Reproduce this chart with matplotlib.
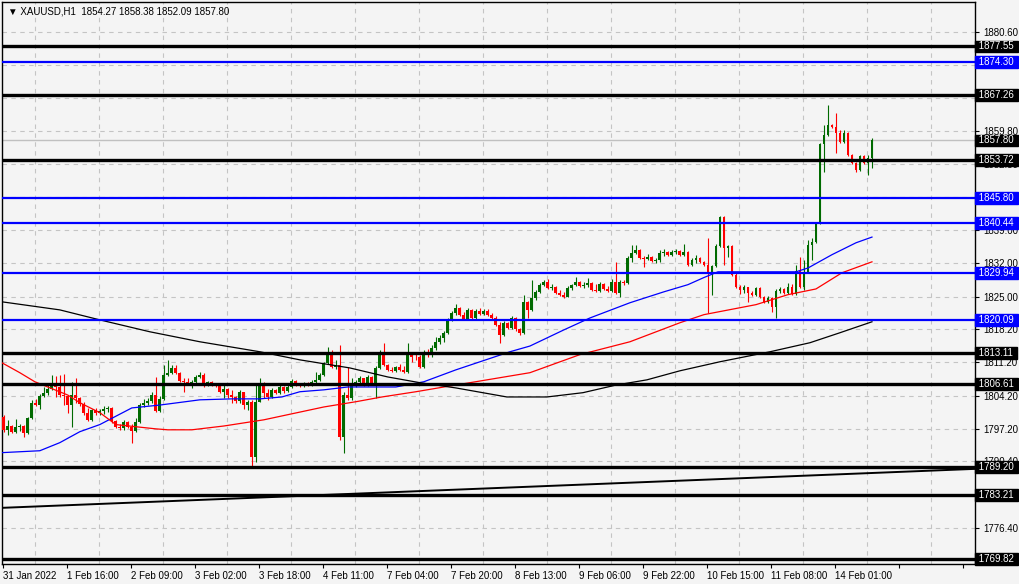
import matplotlib
matplotlib.use('Agg')
import matplotlib.pyplot as plt
import matplotlib.transforms as mtransforms

plt.rcParams['font.family'] = ['Liberation Sans', 'DejaVu Sans']

# XAUUSD H1 candles, 31 Jan 2022 .. 14 Feb 2022
first_open = 1799.7
closes = [
    1797.0, 1797.8, 1796.6, 1797.6, 1797.8, 1796.4, 1799.5, 1802.7, 1802.2, 1804.1,
    1804.8, 1805.6, 1806.9, 1806.0, 1804.3, 1804.1, 1802.2, 1804.3, 1803.7, 1802.5,
    1800.6, 1799.1, 1801.2, 1800.6, 1801.0, 1801.4, 1801.6, 1798.9, 1797.6, 1797.4,
    1798.7, 1797.6, 1796.8, 1798.7, 1802.2, 1802.7, 1803.1, 1804.3, 1801.0, 1803.5,
    1808.6, 1809.0, 1810.0, 1809.0, 1807.3, 1807.1, 1806.9, 1807.1, 1808.1, 1808.6,
    1806.2, 1807.1, 1806.4, 1806.2, 1804.9, 1805.6, 1804.3, 1803.9, 1803.1, 1804.9,
    1802.2, 1802.9, 1791.3, 1802.9, 1806.9, 1804.8, 1803.9, 1805.4, 1804.8, 1806.0,
    1805.2, 1806.0, 1807.3, 1806.7, 1806.2, 1806.9, 1806.4, 1807.1, 1807.5, 1808.6,
    1811.1, 1813.4, 1810.2, 1810.7, 1795.5, 1804.3, 1803.7, 1806.9, 1807.1, 1807.9,
    1806.4, 1808.1, 1806.9, 1810.0, 1813.4, 1810.7, 1809.6, 1809.4, 1810.2, 1809.6,
    1809.2, 1812.8, 1812.4, 1812.2, 1810.2, 1813.4, 1812.8, 1814.2, 1815.5, 1816.3,
    1817.4, 1820.1, 1821.6, 1822.6, 1821.2, 1820.3, 1822.2, 1820.5, 1822.0, 1821.4,
    1822.0, 1821.2, 1820.5, 1819.1, 1816.9, 1819.5, 1818.4, 1820.5, 1818.2, 1817.4,
    1823.9, 1822.2, 1824.7, 1826.0, 1827.5, 1828.1, 1826.8, 1827.0, 1825.8, 1825.4,
    1824.9, 1826.8, 1827.5, 1828.1, 1827.2, 1827.5, 1827.9, 1826.4, 1826.2, 1827.7,
    1826.6, 1826.2, 1828.1, 1825.8, 1828.1, 1827.9, 1833.1, 1834.2, 1834.8, 1833.1,
    1832.9, 1833.4, 1832.5, 1832.7, 1834.2, 1834.4, 1833.7, 1834.4, 1834.6, 1833.7,
    1834.4, 1831.7, 1832.7, 1833.1, 1832.3, 1831.7, 1830.0, 1831.4, 1835.7, 1841.7,
    1835.2, 1835.7, 1829.6, 1827.0, 1826.4, 1827.0, 1825.8, 1825.4, 1826.8, 1824.9,
    1823.9, 1824.7, 1822.8, 1826.2, 1826.6, 1825.8, 1827.0, 1825.6, 1830.4, 1827.0,
    1830.2, 1835.9, 1836.5, 1840.5, 1857.1, 1859.0, 1861.1, 1860.6, 1859.4, 1857.5,
    1859.4, 1854.8, 1853.1, 1851.6, 1854.6, 1853.1, 1854.2, 1857.8,
]
highs = [
    1800.1, 1799.1, 1798.1, 1799.3, 1798.3, 1798.1, 1799.7, 1803.3, 1803.5, 1804.6,
    1806.0, 1806.7, 1808.6, 1808.3, 1808.6, 1808.8, 1804.3, 1807.1, 1807.9, 1803.9,
    1802.9, 1801.6, 1801.4, 1801.6, 1801.4, 1802.0, 1802.0, 1801.8, 1799.1, 1798.3,
    1799.1, 1798.9, 1798.3, 1799.5, 1802.7, 1803.5, 1803.7, 1805.0, 1808.1, 1804.1,
    1810.7, 1811.7, 1810.7, 1810.7, 1809.2, 1807.9, 1807.9, 1807.5, 1808.6, 1809.2,
    1809.0, 1807.3, 1807.3, 1806.9, 1806.7, 1806.4, 1805.8, 1805.4, 1804.1, 1805.4,
    1805.0, 1803.3, 1803.3, 1806.9, 1807.9, 1807.1, 1805.6, 1805.8, 1805.6, 1806.4,
    1806.2, 1806.4, 1807.7, 1807.5, 1806.9, 1807.1, 1807.1, 1807.5, 1809.2, 1809.0,
    1811.3, 1814.4, 1813.8, 1811.7, 1814.9, 1805.0, 1810.2, 1807.9, 1807.5, 1808.3,
    1807.9, 1808.6, 1808.3, 1810.4, 1813.8, 1815.3, 1810.9, 1810.2, 1810.4, 1810.9,
    1810.4, 1815.3, 1813.2, 1813.4, 1812.8, 1813.8, 1814.0, 1814.9, 1816.5, 1817.0,
    1817.8, 1820.6, 1822.0, 1823.5, 1822.8, 1821.8, 1822.6, 1822.4, 1822.4, 1822.6,
    1822.4, 1822.4, 1821.6, 1820.9, 1819.7, 1819.9, 1819.7, 1820.9, 1820.7, 1818.4,
    1825.4, 1824.1, 1828.5, 1826.4, 1827.9, 1828.5, 1828.7, 1827.7, 1827.2, 1826.4,
    1826.0, 1827.2, 1827.7, 1829.1, 1828.3, 1828.1, 1828.9, 1828.1, 1827.7, 1828.1,
    1827.9, 1827.2, 1828.7, 1832.3, 1828.5, 1828.5, 1833.6, 1835.9, 1835.9, 1835.0,
    1833.6, 1834.0, 1833.6, 1833.1, 1834.8, 1835.0, 1834.6, 1834.8, 1835.0, 1834.8,
    1836.1, 1834.6, 1833.1, 1833.8, 1833.3, 1832.5, 1837.3, 1831.7, 1836.1, 1841.9,
    1841.9, 1835.9, 1835.9, 1830.0, 1827.5, 1827.5, 1827.0, 1826.2, 1827.0, 1827.0,
    1825.2, 1825.2, 1824.9, 1826.6, 1827.0, 1826.8, 1827.9, 1827.7, 1831.7, 1833.3,
    1832.7, 1836.9, 1837.3, 1840.7, 1857.3, 1861.1, 1865.3, 1861.3, 1863.6, 1860.0,
    1860.0, 1859.6, 1855.0, 1853.3, 1854.8, 1854.8, 1854.8, 1858.38,
]
lows = [
    1796.6, 1795.9, 1796.4, 1796.4, 1796.8, 1795.5, 1796.2, 1799.3, 1802.0, 1801.4,
    1803.9, 1804.3, 1805.4, 1803.9, 1803.9, 1802.3, 1800.6, 1797.6, 1802.7, 1802.0,
    1800.1, 1798.9, 1798.9, 1800.1, 1800.1, 1800.4, 1800.8, 1798.5, 1797.4, 1797.0,
    1797.0, 1797.4, 1794.3, 1796.6, 1798.5, 1801.8, 1802.2, 1802.7, 1800.8, 1800.8,
    1803.3, 1808.3, 1808.8, 1808.8, 1807.1, 1805.0, 1806.7, 1805.8, 1806.9, 1807.9,
    1806.0, 1806.2, 1806.2, 1806.0, 1804.7, 1803.7, 1803.7, 1802.7, 1802.7, 1802.7,
    1801.4, 1801.2, 1789.0, 1790.3, 1802.9, 1803.7, 1803.3, 1803.7, 1804.6, 1804.6,
    1804.8, 1805.0, 1805.8, 1806.2, 1806.0, 1806.0, 1806.2, 1806.2, 1806.9, 1807.3,
    1808.3, 1810.9, 1810.0, 1809.8, 1794.9, 1792.2, 1803.3, 1803.3, 1806.0, 1806.4,
    1806.2, 1806.2, 1806.7, 1803.7, 1809.8, 1810.4, 1809.4, 1809.2, 1809.2, 1809.4,
    1809.0, 1809.0, 1811.3, 1811.7, 1810.0, 1810.0, 1812.4, 1812.4, 1813.8, 1815.1,
    1815.5, 1817.2, 1819.9, 1821.2, 1820.9, 1820.1, 1820.1, 1820.3, 1820.3, 1821.2,
    1821.2, 1820.9, 1820.3, 1818.8, 1815.3, 1816.7, 1818.2, 1818.2, 1817.8, 1817.0,
    1817.2, 1820.5, 1822.0, 1824.3, 1825.8, 1827.2, 1826.6, 1826.4, 1825.6, 1825.2,
    1824.7, 1824.9, 1826.4, 1827.2, 1827.0, 1826.8, 1827.0, 1826.2, 1826.0, 1826.0,
    1826.4, 1826.0, 1826.0, 1825.6, 1824.9, 1827.5, 1827.7, 1832.3, 1834.0, 1832.9,
    1831.2, 1832.7, 1832.3, 1832.1, 1832.3, 1833.6, 1833.6, 1833.6, 1834.0, 1833.6,
    1833.6, 1831.4, 1831.4, 1832.1, 1832.1, 1831.4, 1821.6, 1825.4, 1831.2, 1835.5,
    1831.7, 1833.3, 1829.4, 1826.8, 1825.6, 1825.8, 1823.9, 1825.2, 1825.2, 1824.7,
    1823.7, 1823.7, 1821.8, 1820.5, 1825.8, 1825.6, 1825.6, 1825.4, 1825.4, 1826.8,
    1826.4, 1830.0, 1832.7, 1836.3, 1840.3, 1851.2, 1858.8, 1860.4, 1855.2, 1857.3,
    1857.3, 1854.6, 1852.9, 1851.2, 1851.4, 1852.9, 1850.6, 1852.09,
]
opens = [first_open] + closes[:-1]

# moving averages (bar index, value)
ma_blue_bars = [-0.5, 9, 14, 19, 24, 32, 39, 49, 57, 64, 69.5, 74, 80, 86, 98, 105, 113,
                126.5, 131.5, 140, 146.5, 156.5, 165, 171, 175, 178.5, 198, 201, 207, 213, 217]
ma_blue_vals = [1792.2, 1792.6, 1794.3, 1796.6, 1798.1, 1801.6, 1802.2, 1803.3, 1803.5, 1803.5,
                1803.9, 1805.0, 1805.4, 1806.0, 1806.0, 1807.1, 1809.6, 1813.4, 1814.6, 1818.0,
                1820.5, 1823.7, 1826.0, 1827.5, 1829.0, 1830.2, 1830.2, 1831.0, 1833.8, 1836.3, 1837.5]
ma_red_bars = [-0.5, 4, 7.75, 11, 16, 19, 24, 28, 33.5, 38, 41, 47, 49, 55, 65, 80, 88, 94.5,
               103, 110, 116.5, 131.5, 144, 156.5, 169, 175, 188, 196, 203, 209.5, 217]
ma_red_vals = [1811.1, 1809.0, 1807.1, 1806.0, 1804.3, 1802.7, 1800.6, 1798.1, 1797.6, 1797.2,
               1797.0, 1797.0, 1797.2, 1797.8, 1799.1, 1801.8, 1802.9, 1803.9, 1805.0, 1806.0,
               1806.9, 1809.0, 1812.8, 1815.5, 1819.5, 1821.2, 1823.3, 1825.4, 1826.6, 1830.0, 1832.3]
ma_black_bars = [-0.5, 14, 24, 36.5, 49, 64, 74, 86.5, 96, 104, 113, 125.75, 135.75, 144.75,
                 153, 160.75, 169, 179, 191.5, 201.5, 209, 217]
ma_black_vals = [1823.9, 1822.2, 1820.1, 1817.6, 1815.5, 1813.4, 1811.7, 1810.0, 1808.1, 1806.9,
                 1805.8, 1803.9, 1803.9, 1804.8, 1806.4, 1807.5, 1809.4, 1811.3, 1813.4, 1815.3,
                 1817.4, 1819.7]

trend_bars = [-0.5, 243]
trend_vals = [1780.6, 1788.8]

black_levels = [1877.55, 1867.26, 1853.72, 1813.11, 1806.61, 1789.20, 1783.21, 1769.82]
blue_levels = [1874.30, 1845.80, 1840.44, 1829.94, 1820.09]
last_price = 1857.80

price_ticks = [1880.60, 1873.70, 1866.80, 1859.80, 1852.80, 1845.90, 1839.00, 1832.00,
               1825.00, 1818.20, 1811.20, 1804.20, 1797.20, 1790.40, 1783.40, 1776.40]
time_labels = ['31 Jan 2022', '1 Feb 16:00', '2 Feb 09:00', '3 Feb 02:00', '3 Feb 18:00',
               '4 Feb 11:00', '7 Feb 04:00', '7 Feb 20:00', '8 Feb 13:00', '9 Feb 06:00',
               '9 Feb 22:00', '10 Feb 15:00', '11 Feb 08:00', '14 Feb 01:00', '', '']

bg = '#f4f4f4'
bull = '#006a00'
bear = '#ff0000'

fig = plt.figure(figsize=(10.2, 5.84), dpi=100, facecolor=bg)
ax = fig.add_axes([2 / 1020, 20 / 584, 973 / 1020, 562 / 584])
ax.set_facecolor(bg)
ax.set_xlim(-0.45, 242.75)
ax.set_ylim(1768.8, 1886.9)

# grid
xgrid = [7.75 + 8 * k for k in range(30)]
xmajor = [-0.25] + [15.75 + 16 * k for k in range(15)]
ax.set_xticks(xmajor)
ax.set_xticklabels(time_labels, fontsize=7)
for lab in ax.get_xticklabels():
    lab.set_horizontalalignment('left')
ax.set_xticks(xgrid, minor=True)
ax.tick_params(axis='x', which='minor', length=0)
ax.tick_params(axis='x', which='major', length=3, pad=2, color='black')
ax.grid(True, which='minor', axis='x', color='#c4c4c4', lw=0.8, ls=(0, (4, 4)))

ax.yaxis.tick_right()
ax.set_yticks(price_ticks)
ax.set_yticklabels(['%.2f' % v for v in price_ticks], fontsize=7)
ax.tick_params(axis='y', length=3, pad=3)
ax.grid(True, which='major', axis='y', color='#c4c4c4', lw=0.8, ls=(0, (4, 4)))
ax.set_axisbelow(True)

for s in ax.spines.values():
    s.set_color('black')
    s.set_linewidth(1)

# candles
bars = list(range(len(closes)))
cols = [bull if c >= o else bear for o, c in zip(opens, closes)]
ax.vlines(bars, lows, highs, colors=cols, lw=0.8, zorder=3)
heights = [max(abs(c - o), 0.15) for o, c in zip(opens, closes)]
bottoms = [min(o, c) for o, c in zip(opens, closes)]
ax.bar(bars, heights, bottom=bottoms, width=0.72, color=cols, lw=0, zorder=3)

# moving averages + trendline
ax.plot(ma_blue_bars, ma_blue_vals, color='#0000ff', lw=0.9, zorder=4)
ax.plot(ma_red_bars, ma_red_vals, color='#ff0000', lw=0.9, zorder=4)
ax.plot(ma_black_bars, ma_black_vals, color='black', lw=0.9, zorder=4)
ax.plot(trend_bars, trend_vals, color='black', lw=1.4, zorder=5)

# levels
trans = mtransforms.blended_transform_factory(ax.transAxes, ax.transData)
ax.axhline(last_price, color='#c0c0c0', lw=1, zorder=2)


def price_box(val, col):
    ax.text(1.0015, val, ' %.2f ' % val, transform=trans, ha='left', va='center',
            fontsize=7, color='white', clip_on=False, zorder=10,
            bbox=dict(boxstyle='square,pad=0.1', fc=col, ec=col))


for lv in black_levels:
    ax.axhline(lv, color='black', lw=2.4, zorder=5)
    price_box(lv, 'black')
for lv in blue_levels:
    ax.axhline(lv, color='#0000ff', lw=1.6, zorder=5)
    price_box(lv, '#0000ff')
price_box(last_price, 'black')

fig.text(8 / 1020, 1 - 11 / 584, '\u25bc XAUUSD,H1  1854.27 1858.38 1852.09 1857.80',
         fontsize=7, va='center', ha='left', family=['Liberation Sans', 'DejaVu Sans'])

fig.savefig('out.png', dpi=100, facecolor=bg)
